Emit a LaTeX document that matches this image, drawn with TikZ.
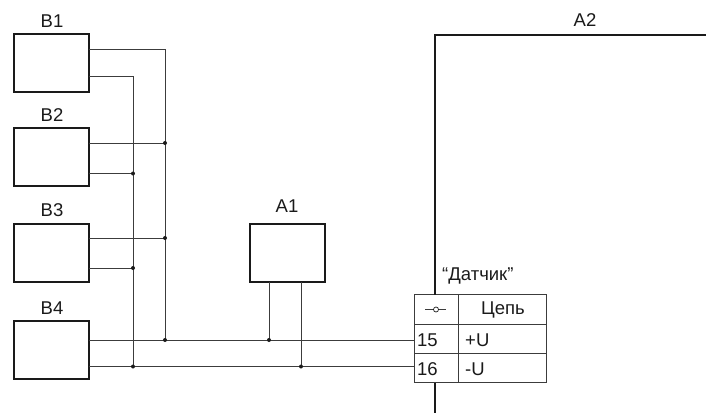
\documentclass[tikz,border=0pt]{standalone}
\usepackage{fontspec}
\setmainfont{Liberation Sans}
\definecolor{ink}{HTML}{1A1A1A}
\tikzset{
  unit/.style={draw=ink,line width=2pt,minimum width=75pt,minimum height=58pt,inner sep=0pt,outer sep=0pt,anchor=north west,line join=miter},
  wire/.style={draw=ink!85,line width=0.9pt},
  dotj/.style={circle,fill=ink,inner sep=0pt,minimum size=4pt},
  cell/.style={draw=ink!85,line width=0.9pt,inner sep=0pt,outer sep=0pt,anchor=north west},
  lab/.style={font=\fontsize{18.5}{20}\selectfont,text=ink,inner sep=0pt},
  tab/.style={font=\fontsize{18.5}{20}\selectfont,text=ink,inner sep=0pt},
  frameline/.style={draw=ink,line width=2pt}
}
\begin{document}
\begin{tikzpicture}[x=1pt,y=-1pt]
\useasboundingbox (0,0) rectangle (706,416);
% units
\node[unit] (b1) at (13.5,33.5) {};
\node[unit] (b2) at (13.5,128) {};
\node[unit] (b3) at (13.5,223.5) {};
\node[unit] (b4) at (13.5,321) {};
\node[unit] (a1) at (249.5,224) {};
\node[lab] (lb1) at (52,21) {B1};
\node[lab] (lb2) at (52,115) {B2};
\node[lab] (lb3) at (52,210) {B3};
\node[lab] (lb4) at (52,308) {B4};
\node[lab] (la1) at (287,206) {A1};
\node[lab] (la2) at (585,20) {A2};
% terminal table
\node[cell,minimum width=44pt,minimum height=30pt] (c11) at (414.3,294.7) {};
\node[cell,minimum width=88.4pt,minimum height=30pt] (c12) at (458.3,294.7) {};
\node[cell,minimum width=44pt,minimum height=29pt] (c21) at (414.3,324.7) {};
\node[cell,minimum width=88.4pt,minimum height=29pt] (c22) at (458.3,324.7) {};
\node[cell,minimum width=44pt,minimum height=29pt] (c31) at (414.3,353.7) {};
\node[cell,minimum width=88.4pt,minimum height=29pt] (c32) at (458.3,353.7) {};
\node[tab] (t0) at (503,309.5) {Цепь};
\node[tab,anchor=west] (t1) at (417,340) {15};
\node[tab,anchor=west] (t2) at (417,369) {16};
\node[tab,anchor=west] (t3) at (465,340) {+U};
\node[tab,anchor=west] (t4) at (465,369) {-U};
\node[lab,anchor=west] (dat) at (442,276) {“Датчик”};
% pin symbol
\node[circle,draw=ink,line width=0.7pt,inner sep=0pt,minimum size=5pt] (pin) at (436,309.5) {};
\coordinate (pl) at (425,309.5);
\coordinate (pr) at (446,309.5);
\draw[wire] (pl) -- (pin) (pin) -- (pr);
% A2 frame
\coordinate (a2r) at (706,35);
\coordinate (a2c) at (434.5,35);
\coordinate (a2b) at (434.5,413);
\draw[frameline] (a2r) -- (a2c) -- (c11.north west -| a2c);
\draw[frameline] (c31.south west -| a2c) -- (a2b);
% bus junctions
\coordinate (v1) at (165,49);
\coordinate (v2) at (133,76);
\coordinate (j1) at (165,143);
\coordinate (j2) at (133,173.5);
\coordinate (j3) at (165,238);
\coordinate (j4) at (133,268);
\coordinate (j5) at (165,340);
\coordinate (j6) at (133,366.5);
\coordinate (j7) at (269,340);
\coordinate (j8) at (301,366.5);
% wires
\draw[wire] (b1.east |- v1) -- (v1) -- (j5);
\draw[wire] (b1.east |- v2) -- (v2) -- (j6);
\draw[wire] (b2.east |- j1) -- (j1);
\draw[wire] (b2.east |- j2) -- (j2);
\draw[wire] (b3.east |- j3) -- (j3);
\draw[wire] (b3.east |- j4) -- (j4);
\draw[wire] (b4.east |- j5) -- (c21.west |- j5);
\draw[wire] (b4.east |- j6) -- (c31.west |- j6);
\draw[wire] (a1.south -| j7) -- (j7);
\draw[wire] (a1.south -| j8) -- (j8);
% dots
\foreach \p in {j1,j2,j3,j4,j5,j6,j7,j8} \node[dotj] at (\p) {};
\end{tikzpicture}
\end{document}
